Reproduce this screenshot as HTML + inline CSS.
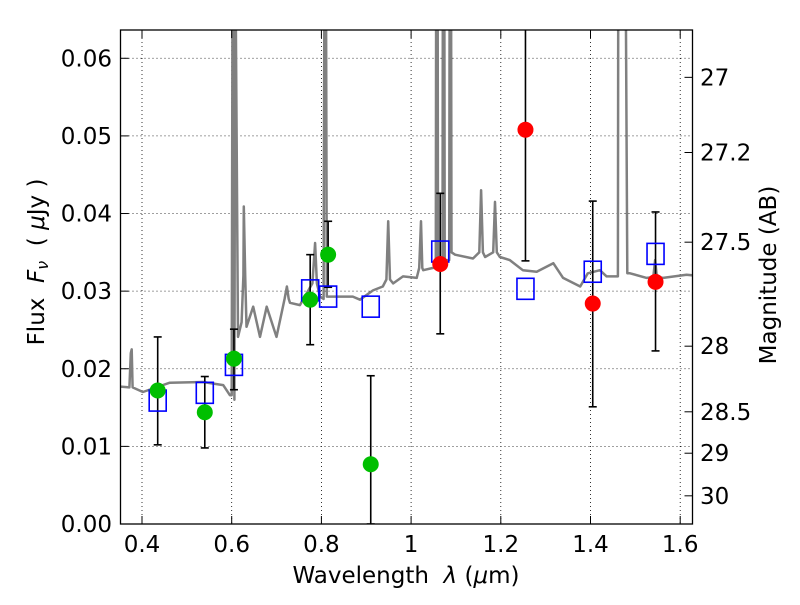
<!DOCTYPE html>
<html><head><meta charset="utf-8"><style>
body{margin:0;background:#fff;}
svg text{font-family:"DejaVu Sans","Liberation Sans",sans-serif;font-size:23px;fill:#000;white-space:pre;}
</style></head><body>
<svg id="chart" width="800" height="600" xmlns="http://www.w3.org/2000/svg">
<rect width="800" height="600" fill="#fff"/>
<defs><clipPath id="pc"><rect x="120.5" y="30" width="572" height="494"/></clipPath></defs>
<g id="grid"></g>
<g id="spec" clip-path="url(#pc)"></g>
<g id="marks" clip-path="url(#pc)"></g>
<rect x="120.5" y="30" width="572" height="494" fill="none" stroke="#000" stroke-width="1.3"/>
<g id="axes"></g>
<text x="406" y="583" text-anchor="middle">Wavelength  <tspan font-style="italic">λ</tspan> (<tspan font-style="italic">μ</tspan>m)</text>
<text transform="translate(44,262) rotate(-90)" text-anchor="middle">Flux  <tspan font-style="italic">F</tspan><tspan font-style="italic" font-size="16" dy="4">ν</tspan><tspan dy="-4">  ( </tspan><tspan font-style="italic">μ</tspan>Jy )</text>
<text transform="translate(776,275) rotate(-90)" text-anchor="middle">Magnitude (AB)</text>
</svg>
<script>
const xTicks=[0.4,0.6,0.8,1.0,1.2,1.4,1.6];
const xTickLabels=["0.4","0.6","0.8","1","1.2","1.4","1.6"];
const yTicks=[0,0.01,0.02,0.03,0.04,0.05,0.06];
const yTickLabels=["0.00","0.01","0.02","0.03","0.04","0.05","0.06"];
const magTicks=[27,27.2,27.5,28,28.5,29,30];
const magTickLabels=["27","27.2","27.5","28","28.5","29","30"];
const greenWl=[0.435,0.54,0.605,0.775,0.815,0.91];
const greenFlux=[0.0172,0.0144,0.0213,0.0289,0.0347,0.0077];
const greenLo=[0.0102,0.0098,0.0173,0.0231,0.0305,0.0];
const greenHi=[0.0241,0.0190,0.0251,0.0347,0.0390,0.0191];
const redWl=[1.065,1.255,1.405,1.545];
const redFlux=[0.0335,0.0508,0.0284,0.0312];
const redLo=[0.0245,0.0339,0.0151,0.0223];
const redHi=[0.0426,0.0650,0.0416,0.0402];
const blueWl=[0.435,0.54,0.605,0.775,0.815,0.91,1.065,1.255,1.405,1.545];
const blueFlux=[0.0159,0.0169,0.0205,0.0301,0.0293,0.0280,0.0351,0.0303,0.0325,0.0348];
const specWl=[0.345,0.351,0.372,0.375,0.377,0.379,0.402,0.462,0.536,0.581,0.596,0.600,0.602,0.604,0.606,0.608,0.614,0.622,0.626,0.627,0.630,0.633,0.648,0.663,0.678,0.700,0.718,0.723,0.727,0.730,0.752,0.780,0.786,0.790,0.797,0.805,0.807,0.810,0.812,0.826,0.870,0.886,0.915,0.937,0.945,0.949,0.953,0.960,0.982,1.0125,1.018,1.022,1.025,1.027,1.049,1.055,1.056,1.059,1.060,1.070,1.071,1.074,1.075,1.085,1.086,1.089,1.090,1.098,1.138,1.152,1.156,1.160,1.165,1.183,1.187,1.191,1.198,1.220,1.249,1.280,1.317,1.339,1.377,1.394,1.421,1.436,1.461,1.462,1.466,1.478,1.482,1.488,1.525,1.540,1.544,1.548,1.562,1.614,1.635];
const specFlux=[0.0177,0.0177,0.0176,0.022,0.0225,0.0176,0.0170,0.0182,0.0183,0.0179,0.0166,0.0166,0.075,0.075,0.016,0.075,0.0241,0.026,0.032,0.0409,0.032,0.0254,0.028,0.0241,0.028,0.0241,0.029,0.0306,0.029,0.0285,0.0282,0.031,0.0362,0.031,0.0293,0.029,0.075,0.075,0.0293,0.0293,0.0293,0.0289,0.0301,0.0306,0.0315,0.039,0.0315,0.031,0.0319,0.0317,0.033,0.039,0.033,0.0327,0.033,0.033,0.075,0.075,0.033,0.033,0.075,0.075,0.034,0.034,0.075,0.075,0.035,0.0347,0.0342,0.035,0.043,0.035,0.0344,0.035,0.0415,0.035,0.0344,0.034,0.0327,0.0325,0.0336,0.0317,0.0306,0.0323,0.0327,0.0319,0.0319,0.075,0.075,0.075,0.0323,0.0323,0.0317,0.0318,0.034,0.0318,0.0317,0.0321,0.032];
const X0=142,XS=448.5,Y0=524,YS=7762;
const xs=w=>X0+(w-0.4)*XS, ys=f=>Y0-f*YS;
const magToFlux=m=>Math.pow(10,-(m-23.9)/2.5);
const NS="http://www.w3.org/2000/svg";
function mk(p,t,a){const e=document.createElementNS(NS,t);for(const k in a)e.setAttribute(k,a[k]);p.appendChild(e);return e;}
const grid=document.getElementById('grid'),axes=document.getElementById('axes'),spec=document.getElementById('spec'),marks=document.getElementById('marks');
xTicks.forEach((t,i)=>{const x=xs(t);
 let g=mk(grid,'line',{x1:x,x2:x,y1:30,y2:524,stroke:'#000','stroke-width':0.8,'stroke-dasharray':'1,3'});
 
 mk(axes,'line',{x1:x,x2:x,y1:524,y2:516,stroke:'#000'});mk(axes,'line',{x1:x,x2:x,y1:30,y2:38,stroke:'#000'});
 let l=mk(axes,'text',{x:x,y:552,'text-anchor':'middle'});l.textContent=xTickLabels[i];
 });
yTicks.forEach((t,i)=>{const y=ys(t);
 let g=mk(grid,'line',{x1:120.5,x2:692.5,y1:y,y2:y,stroke:'#000','stroke-width':0.8,'stroke-dasharray':'1,3'});
 
 mk(axes,'line',{x1:120.5,x2:128.5,y1:y,y2:y,stroke:'#000'});
 let l=mk(axes,'text',{x:112,y:y+8,'text-anchor':'end'});l.textContent=yTickLabels[i];
 });
magTicks.forEach((m,i)=>{const y=ys(magToFlux(m));
 mk(axes,'line',{x1:692.5,x2:684.5,y1:y,y2:y,stroke:'#000'});
 let l=mk(axes,'text',{x:700,y:y+8});l.textContent=magTickLabels[i];
 });
let d=specWl.map((w,i)=>(i?'L':'M')+xs(w).toFixed(1)+','+ys(specFlux[i]).toFixed(1)).join('');
let sp=mk(spec,'path',{d:d,fill:'none',stroke:'#808080','stroke-width':2.5,'stroke-linejoin':'round'});

function errs(wl,lo,hi){wl.forEach((w,i)=>{const x=xs(w);
 let e=mk(marks,'line',{x1:x,x2:x,y1:ys(lo[i]),y2:ys(hi[i]),stroke:'#000','stroke-width':1.6});
 
 mk(marks,'line',{x1:x-4,x2:x+4,y1:ys(lo[i]),y2:ys(lo[i]),stroke:'#000','stroke-width':1.6});
 mk(marks,'line',{x1:x-4,x2:x+4,y1:ys(hi[i]),y2:ys(hi[i]),stroke:'#000','stroke-width':1.6});});}
errs(greenWl,greenLo,greenHi);errs(redWl,redLo,redHi);
blueWl.forEach((w,i)=>{let r=mk(marks,'rect',{x:xs(w)-8.5,y:ys(blueFlux[i])-10.5,width:17,height:21,fill:'none',stroke:'#0000ff','stroke-width':1.6});
 });
greenWl.forEach((w,i)=>{let c=mk(marks,'circle',{cx:xs(w),cy:ys(greenFlux[i]),r:8,fill:'#00bf00'});
 });
redWl.forEach((w,i)=>{let c=mk(marks,'circle',{cx:xs(w),cy:ys(redFlux[i]),r:8,fill:'#ff0000'});
 });
</script>
</body></html>
